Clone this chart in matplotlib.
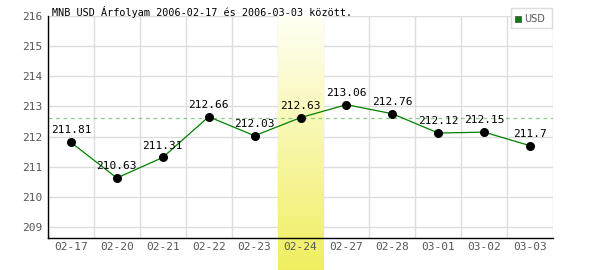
import numpy as np
import matplotlib.pyplot as plt
from matplotlib.patches import Rectangle
from matplotlib.colors import LinearSegmentedColormap

dates = ['02-17', '02-20', '02-21', '02-22', '02-23', '02-24',
         '02-27', '02-28', '03-01', '03-02', '03-03']
usd = [211.81, 210.63, 211.31, 212.66, 212.03, 212.63,
       213.06, 212.76, 212.12, 212.15, 211.7]
highlight = '02-24'
ref_value = 212.63
yticks = [209, 210, 211, 212, 213, 214, 215, 216]

plt.rcParams['font.family'] = 'DejaVu Sans Mono'

fig = plt.figure(figsize=(6, 2.7), dpi=100)
ax = fig.add_axes([48 / 600, 1 - 238 / 270, 505 / 600, 222 / 270])

x = np.arange(len(dates))
ylo, yhi = 208.64, 216.0

# grid
for k in range(len(dates) + 1):
    ax.axvline(k - 0.5, color='#dddddd', lw=1, zorder=0)
for t in yticks:
    ax.axhline(t, color='#dddddd', lw=1, zorder=0)

# highlighted day, gradient yellow -> white, down to the bottom of the figure
hi = dates.index(highlight)
grad = np.linspace(0, 1, 256).reshape(-1, 1)
cmap = LinearSegmentedColormap.from_list('hl', ['#f0ee60', '#fffff4'])
ybot = ylo - (270 - 238) * (yhi - ylo) / 222
ax.imshow(grad, cmap=cmap, origin='lower', aspect='auto',
          extent=[hi - 0.5, hi + 0.5, ybot, yhi], zorder=0.5, clip_on=False)
ax.set_xlim(-0.5, len(dates) - 0.5)
ax.set_ylim(ylo, yhi)

ax.axhline(ref_value, color='#88cc88', lw=0.9, ls=(0, (3, 3)), zorder=1)

ax.plot(x, usd, color='#008000', lw=0.9, zorder=2)
ax.scatter(x, usd, s=30, color='black', zorder=3)
for xi, v in zip(x, usd):
    ax.annotate(f'{v:g}', (xi, v), xytext=(0, 5), textcoords='offset points',
                ha='center', va='bottom', fontsize=8, color='black', zorder=4)

ax.set_xticks(x)
ax.set_xticklabels(dates)
ax.set_yticks(yticks)
ax.tick_params(length=0, labelsize=8, colors='#555555')
ax.tick_params(axis='x', pad=3)
ax.tick_params(axis='y', pad=4)
for s in ['top', 'right']:
    ax.spines[s].set_visible(False)
for s in ['left', 'bottom']:
    ax.spines[s].set_color('black')
    ax.spines[s].set_linewidth(1)
    ax.spines[s].set_zorder(5)

fig.text(52 / 600, 1 - 16.5 / 270, 'MNB USD Árfolyam 2006-02-17 és 2006-03-03 között.',
         fontsize=7.3, va='baseline', ha='left', color='black')

# legend box
fig.patches.append(Rectangle((511 / 600, 1 - 28 / 270), 41 / 600, 20 / 270,
                             transform=fig.transFigure, facecolor='white',
                             edgecolor='#dddddd', lw=1, zorder=6))
fig.patches.append(Rectangle((515 / 600, 1 - 22 / 270), 6 / 600, 6 / 270,
                             transform=fig.transFigure, facecolor='#008000',
                             edgecolor='#555555', lw=0.6, zorder=7))
fig.text(524 / 600, 1 - 19 / 270, 'USD', fontsize=7, va='center', ha='left',
         color='#555555', family='DejaVu Sans', zorder=8)

fig.savefig('out.png', dpi=100)
